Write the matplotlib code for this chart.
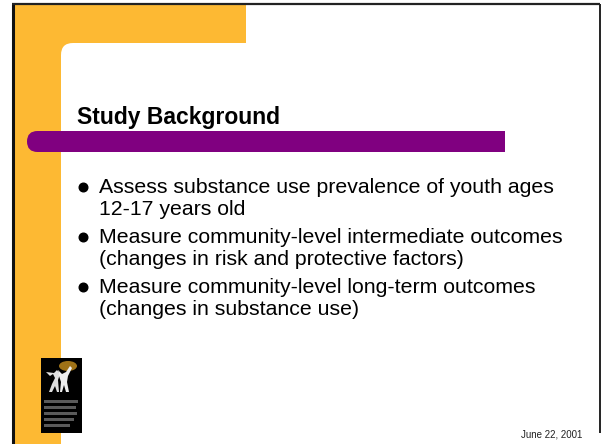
import matplotlib
matplotlib.use("Agg")
import matplotlib.pyplot as plt
from matplotlib.patches import Rectangle, FancyBboxPatch, Ellipse, Polygon

# slide content
title = "Study Background"
bullets = [
    ["Assess substance use prevalence of youth ages", "12-17 years old"],
    ["Measure community-level intermediate outcomes", "(changes in risk and protective factors)"],
    ["Measure community-level long-term outcomes", "(changes in substance use)"],
]
date_text = "June 22, 2001"

ORANGE = "#FDB933"
PURPLE = "#800080"
FONT = "Liberation Sans"

fig = plt.figure(figsize=(6.02, 4.44), dpi=100)
ax = fig.add_axes([0, 0, 1, 1])
ax.set_xlim(0, 602)
ax.set_ylim(444, 0)
ax.axis("off")

# orange frame (top band + left stripe)
ax.add_patch(Rectangle((13, 4), 233, 60, color=ORANGE, lw=0))
ax.add_patch(Rectangle((13, 4), 49, 440, color=ORANGE, lw=0))
# white panel with rounded corner
ax.add_patch(FancyBboxPatch((61, 43), 700, 600,
                            boxstyle="round,pad=0,rounding_size=12",
                            color="white", lw=0))

# slide border
ax.plot([13, 13], [4, 444], color="#111111", lw=2.2, solid_capstyle="butt")
ax.plot([12, 600], [4.5, 4.5], color="#222222", lw=1.6, solid_capstyle="butt")
ax.plot([600, 600], [4, 433], color="#222222", lw=1.4, solid_capstyle="butt")

# purple title bar, rounded on the left only
ax.add_patch(FancyBboxPatch((27, 131), 478, 21,
                            boxstyle="round,pad=0,rounding_size=10.5",
                            color=PURPLE, lw=0))
ax.add_patch(Rectangle((480, 131), 25, 21, color=PURPLE, lw=0))

# title
ax.text(77, 124, title, fontsize=16.5, fontweight="bold", family=FONT,
        color="black", va="baseline", ha="left")

# bullets
y = 193
line_gap = 22.3
bullet_gap = 27.5
for item in bullets:
    ax.plot(82.5, y - 6, "o", ms=6.2, color="black", mec="black")
    for i, line in enumerate(item):
        ax.text(99, y, line, fontsize=15.3, family=FONT, color="black",
                va="baseline", ha="left")
        if i < len(item) - 1:
            y += line_gap
    y += bullet_gap

# logo (black box with figures and text lines)
ax.add_patch(Rectangle((41, 358), 41, 75, color="black", lw=0))
ax.add_patch(Ellipse((68, 366), 18, 10, color="#C8901E", lw=0, alpha=0.8))
ax.add_patch(Polygon([(46, 372), (50, 376), (53, 374), (55, 378), (52, 384),
                      (49, 392), (52, 392), (55, 386), (57, 392), (59, 392),
                      (58, 380), (60, 374), (57, 370), (54, 373)],
                     color="#E0E0E0", lw=0))
ax.add_patch(Polygon([(58, 370), (62, 374), (66, 372), (70, 366), (72, 368),
                      (68, 376), (67, 382), (69, 392), (66, 392), (64, 385),
                      (62, 392), (60, 392), (61, 382), (59, 376)],
                     color="#EEEEEE", lw=0))
for k, w in enumerate([34, 32, 33, 30, 26]):
    ax.add_patch(Rectangle((44, 400 + k * 6), w, 2.5, color="#5A5A5A", lw=0))

# date footer
ax.text(521, 437, date_text, fontsize=7.0, family=FONT, color="#222222",
        va="baseline", ha="left")

fig.savefig("out.png", dpi=100)
